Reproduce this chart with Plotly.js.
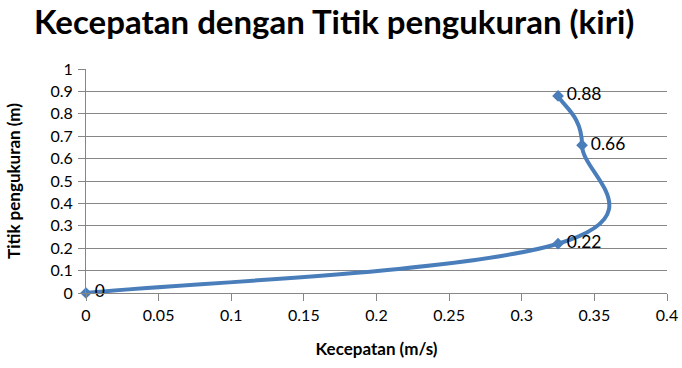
<!DOCTYPE html>
<html>
<head>
<meta charset="utf-8">
<script src="https://cdn.plot.ly/plotly-3.0.1.min.js"></script>
<style>html,body{margin:0;padding:0;background:#fff;}#chart{width:682px;height:368px;}</style>
</head>
<body>
<div id="chart"></div>
<script>
var velocity = [0, 0.325, 0.3415, 0.325];
var depth = [0, 0.22, 0.66, 0.88];
var labels = ['0', '0.22', '0.66', '0.88'];
var xTicks = [0, 0.05, 0.1, 0.15, 0.2, 0.25, 0.3, 0.35, 0.4];
var xTickText = ['0', '0.05', '0.1', '0.15', '0.2', '0.25', '0.3', '0.35', '0.4'];
var yTicks = [0, 0.1, 0.2, 0.3, 0.4, 0.5, 0.6, 0.7, 0.8, 0.9, 1];
var yTickText = ['0', '0.1', '0.2', '0.3', '0.4', '0.5', '0.6', '0.7', '0.8', '0.9', '1'];

// Excel-style smoothed line (cubic Bezier, Catmull-Rom tangents) built from the data arrays
function smoothPath(xs, ys) {
  var n = xs.length, k = 0.2;
  var d = 'M' + xs[0] + ',' + ys[0];
  for (var i = 0; i < n - 1; i++) {
    var p = Math.max(i - 1, 0), q = Math.min(i + 2, n - 1);
    var c1x = xs[i] + (xs[i + 1] - xs[p]) * k, c1y = ys[i] + (ys[i + 1] - ys[p]) * k;
    var c2x = xs[i + 1] - (xs[q] - xs[i]) * k, c2y = ys[i + 1] - (ys[q] - ys[i]) * k;
    d += ' C' + c1x + ',' + c1y + ' ' + c2x + ',' + c2y + ' ' + xs[i + 1] + ',' + ys[i + 1];
  }
  return d;
}

var font = 'Lato, Carlito, "Liberation Sans", sans-serif';
var trace = {
  x: velocity, y: depth, text: labels,
  mode: 'markers+text',
  textposition: 'middle right',
  texttemplate: '\u2009%{text}',
  textfont: {family: font, size: 17.5, color: '#000'},
  marker: {symbol: 'diamond', size: 9, color: '#4a7ebb'},
  cliponaxis: false,
  hoverinfo: 'none'
};
var layout = {
  width: 682, height: 368,
  margin: {l: 86, r: 15, t: 69, b: 75},
  paper_bgcolor: '#fff', plot_bgcolor: '#fff',
  showlegend: false,
  font: {family: font, color: '#000'},
  title: {text: '<b>Kecepatan dengan Titik pengukuran (kiri)</b>', font: {family: font, size: 33, color: '#000'}, x: 0.49, xanchor: 'center', y: 0.94, yanchor: 'middle'},
  shapes: [{
    type: 'path', xref: 'x', yref: 'y', layer: 'between',
    path: smoothPath(velocity, depth),
    line: {color: '#4a7ebb', width: 4}
  }],
  xaxis: {
    range: [0, 0.4], tickvals: xTicks, ticktext: xTickText,
    showgrid: false, zeroline: false,
    showline: true, linecolor: '#868686', linewidth: 1,
    ticks: 'outside', ticklen: 7, tickcolor: '#868686',
    ticklabelstandoff: 1,
    tickfont: {family: font, size: 16, color: '#000'},
    title: {text: '<b>Kecepatan (m/s)</b>', font: {family: font, size: 17, color: '#000'}, standoff: 19}
  },
  yaxis: {
    range: [0, 1], tickvals: yTicks, ticktext: yTickText,
    showgrid: true, gridcolor: '#868686', gridwidth: 1,
    zeroline: false,
    showline: true, linecolor: '#868686', linewidth: 1,
    ticks: 'outside', ticklen: 7, tickcolor: '#868686',
    ticklabelstandoff: 2,
    tickfont: {family: font, size: 16, color: '#000'},
    title: {text: '<b>Titik pengukuran (m)</b>', font: {family: font, size: 17, color: '#000'}, standoff: 25}
  }
};
Plotly.newPlot('chart', [trace], layout, {displayModeBar: false, staticPlot: true});
</script>
</body>
</html>
